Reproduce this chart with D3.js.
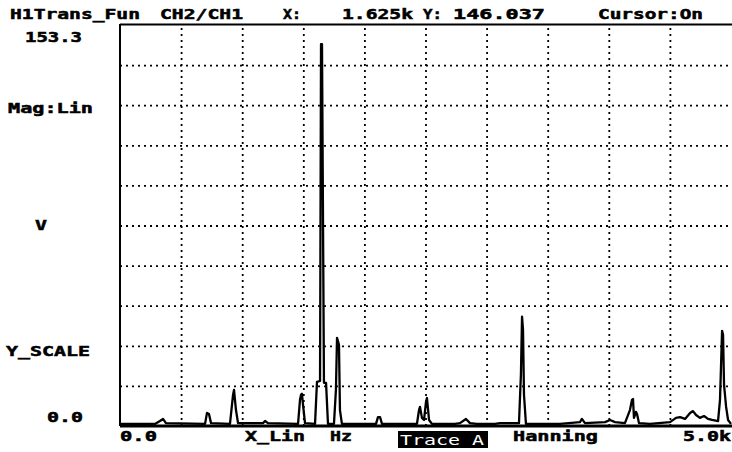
<!DOCTYPE html>
<html>
<head>
<script src="https://d3js.org/d3.v7.min.js"></script>
    <style>
        body {
            margin: 0;
            background-color: #ffffff;
        }
        .lbl {
            font-family: "DejaVu Sans Mono", monospace;
            font-weight: bold;
            font-size: 13.5px;
            fill: #000;
            stroke: #000;
            stroke-width: 0.5px;
        }
    </style>
</head>
<body>
<div class="chart"></div>
<script>
    // spectrum: frequency (Hz) and magnitude (V)
    var freqHz = [0, 286, 327, 352, 376, 696, 712, 728, 745, 900, 925, 933, 949, 966,
        1170, 1187, 1211, 1457, 1473, 1481, 1489, 1498, 1514, 1596, 1612, 1637, 1645, 1653, 1669, 1686, 1702,
        1751, 1767, 1776, 1792, 1800, 1816, 2095, 2111, 2128, 2144,
        2430, 2447, 2455, 2471, 2488, 2504, 2512, 2529, 2553, 2741, 2782, 2831, 2864, 2921,
        3069, 3110, 3265, 3281, 3290, 3298, 3306, 3322, 3601, 3764, 3780, 3805,
        3969, 4010, 4051, 4132, 4173, 4190, 4198, 4206, 4222, 4231, 4247, 4337,
        4501, 4550, 4583, 4624, 4665, 4689, 4714, 4746, 4779, 4812, 4845, 4894,
        4910, 4927, 4935, 4943, 4960, 4976, 5000];
    var magV = [0.8, 0.8, 1.9, 2.7, 1.1, 0.8, 5.0, 4.6, 1.1, 0.8, 11.9, 13.8, 6.1, 1.1,
        1.1, 1.9, 1.1, 0.8, 10.0, 11.9, 12.3, 8.0, 1.1, 0.8, 16.9, 17.2, 146.0, 146.0, 16.5, 16.5, 0.8,
        0.8, 13.8, 33.7, 31.0, 6.1, 0.8, 0.8, 3.4, 3.4, 0.8,
        0.8, 6.1, 7.3, 3.1, 2.3, 9.2, 10.7, 2.3, 0.8, 0.8, 1.1, 2.7, 1.1, 0.8,
        0.8, 1.1, 1.1, 19.9, 41.8, 36.8, 11.9, 0.8, 0.8, 1.5, 2.7, 1.1,
        1.5, 2.3, 1.5, 1.1, 6.1, 10.0, 10.3, 3.1, 5.4, 4.6, 1.1, 0.8,
        1.5, 3.1, 3.4, 2.7, 5.0, 5.7, 4.2, 3.1, 3.8, 2.7, 2.3, 1.9,
        10.0, 36.4, 34.9, 15.7, 7.3, 2.3, 0.8];

    var xTicks = [0, 500, 1000, 1500, 2000, 2500, 3000, 3500, 4000, 4500, 5000];
    var yDivs = 10, yMax = 153.3;

    // screen texts: [text, x, baseline, width]
    var headerLabels = [
        ["H1Trans_Fun", 10, 19, 130], ["CH2/CH1", 160, 19, 83], ["X:", 283, 19, 18],
        ["1.625k", 342, 19, 71], ["Y:", 423, 19, 19], ["146.037", 453, 19, 92],
        ["Cursor:On", 598, 19, 105]
    ];
    var sideLabels = [
        ["153.3", 25, 42, 57], ["Mag:Lin", 8, 113, 85], ["V", 35, 230, 12],
        ["Y_SCALE", 6, 356, 84], ["0.0", 47, 422, 36]
    ];
    var bottomLabels = [
        ["0.0", 120, 441, 37], ["X_Lin", 245, 441, 60], ["Hz", 330, 441, 22],
        ["Hanning", 513, 441, 85], ["5.0k", 683, 441, 48]
    ];

    var W = 732, H = 452,
        plot = { left: 120, right: 731, top: 25, bottom: 426 };

    var svg = d3.select('.chart').append('svg')
        .attr('width', W)
        .attr('height', H);

    var x = d3.scaleLinear().domain([0, 5000]).range([plot.left, plot.right]);
    var y = d3.scaleLinear().domain([0, yMax]).range([plot.bottom, plot.top]);

    var yTicks = d3.range(1, yDivs).map(function(i) { return yMax * i / yDivs; });

    // dotted grid
    var gx = svg.append('g')
        .attr('transform', 'translate(0,' + plot.bottom + ')')
        .call(d3.axisBottom(x).tickValues(xTicks.slice(1, -1)).tickSize(-(plot.bottom - plot.top)).tickFormat(''));
    var gy = svg.append('g')
        .attr('transform', 'translate(' + plot.left + ',0)')
        .call(d3.axisLeft(y).tickValues(yTicks).tickSize(-(plot.right - plot.left)).tickFormat(''));
    [gx, gy].forEach(function(g) {
        g.select('.domain').remove();
        g.selectAll('line')
            .attr('stroke', '#000')
            .attr('stroke-width', 1.8)
            .attr('stroke-dasharray', '2,4');
    });

    // frame
    svg.append('line').attr('x1', plot.left).attr('x2', W).attr('y1', plot.top - 0.5).attr('y2', plot.top - 0.5)
        .attr('stroke', '#000').attr('stroke-width', 2);
    svg.append('line').attr('x1', plot.left).attr('x2', plot.left).attr('y1', plot.top - 1).attr('y2', plot.bottom)
        .attr('stroke', '#000').attr('stroke-width', 2);
    svg.append('line').attr('x1', plot.left).attr('x2', W).attr('y1', plot.bottom).attr('y2', plot.bottom)
        .attr('stroke', '#000').attr('stroke-width', 3);

    // trace
    var line = d3.line()
        .x(function(d) { return x(d[0]); })
        .y(function(d) { return y(d[1]); });
    svg.append('path')
        .datum(d3.zip(freqHz, magV))
        .attr('d', line)
        .attr('fill', 'none')
        .attr('stroke', '#000')
        .attr('stroke-width', 2.3)
        .attr('stroke-linejoin', 'round');

    // "Trace A" badge
    svg.append('rect').attr('x', 398).attr('y', 431).attr('width', 90).attr('height', 17).attr('fill', '#000');
    svg.append('text').attr('class', 'lbl')
        .attr('x', 400).attr('y', 445)
        .attr('textLength', 84).attr('lengthAdjust', 'spacingAndGlyphs')
        .style('fill', '#fff').style('stroke', 'none').style('font-weight', 'normal')
        .text('Trace A');

    svg.selectAll('.txt')
        .data(headerLabels.concat(sideLabels, bottomLabels))
        .enter().append('text')
        .attr('class', 'lbl txt')
        .attr('x', function(d) { return d[1]; })
        .attr('y', function(d) { return d[2]; })
        .attr('textLength', function(d) { return d[3]; })
        .attr('lengthAdjust', 'spacingAndGlyphs')
        .text(function(d) { return d[0]; });
</script>
</body>
</html>
